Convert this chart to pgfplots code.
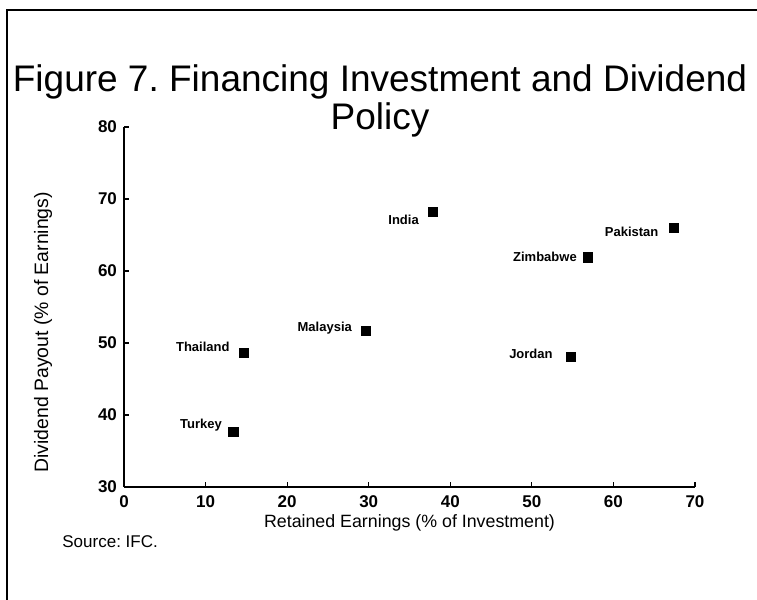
\documentclass[border=0pt]{standalone}
\usepackage{fontspec}
\setmainfont{Liberation Sans}
\usepackage{pgfplots}
\pgfplotsset{compat=1.18}
\usepackage{pgfplotstable}
\pgfplotstableread{
x y label dx dy
37.9 68.2 India -7 -4
29.7 51.7 Malaysia -7 1.5
14.7 48.6 Thailand -7 3
13.4 37.6 Turkey -5.5 3.5
67.4 66.0 Pakistan -7.5 -2
56.9 61.9 Zimbabwe -5.5 0
54.8 48.1 Jordan -9 1.5
}\datatable
\begin{document}
\frenchspacing
\begin{tikzpicture}
\path[use as bounding box] (-62pt,-56.5pt) rectangle (316.5pt,243.5pt);
\draw[line width=1pt] (-58.5pt,-56.5pt) -- (-58.5pt,238.5pt) -- (316.5pt,238.5pt);
\begin{axis}[
  at={(0,0)}, anchor=south west,
  scale only axis, width=285.5pt, height=180pt,
  xmin=0, xmax=70, ymin=30, ymax=80,
  xtick={0,10,...,70}, ytick={30,40,...,80},
  axis lines=left, axis line style={-, line width=0.8pt},
  tick align=inside, major tick length=2.5pt,
  tick style={line width=0.6pt, black},
  /pgf/number format/assume math mode=true,
  tick label style={font=\fontsize{8.5}{10}\selectfont\bfseries},
  xticklabel style={yshift=-1pt},
  xlabel={Retained Earnings (\% of Investment)},
  ylabel={Dividend Payout (\% of Earnings)},
  xlabel style={font=\fontsize{8.9}{10}\selectfont, at={(axis description cs:0.5,0)}, anchor=center, yshift=-18pt},
  ylabel style={font=\fontsize{9.7}{11}\selectfont, at={(axis description cs:0,0.43)}, anchor=center, yshift=40.5pt},
  clip=false,
]
\addplot[only marks, mark=square*, mark size=2.3pt, black,
  point meta=explicit symbolic,
  visualization depends on={\thisrow{dx}\as\dx},
  visualization depends on={\thisrow{dy}\as\dy},
  nodes near coords,
  every node near coord/.append style={anchor=east, inner sep=0pt,
    xshift=\dx pt, yshift=\dy pt, font=\fontsize{6.5}{8}\selectfont\bfseries, black}
] table[x=x, y=y, meta=label] {\datatable};
\end{axis}
\node[font=\fontsize{18.5}{19}\selectfont, align=center] at (128pt,193pt) {Figure 7. Financing Investment and Dividend\\Policy};
\node[font=\fontsize{8.5}{10}\selectfont, anchor=west, inner sep=0pt] at (-31pt,-27.5pt) {Source: IFC.};
\end{tikzpicture}
\end{document}
